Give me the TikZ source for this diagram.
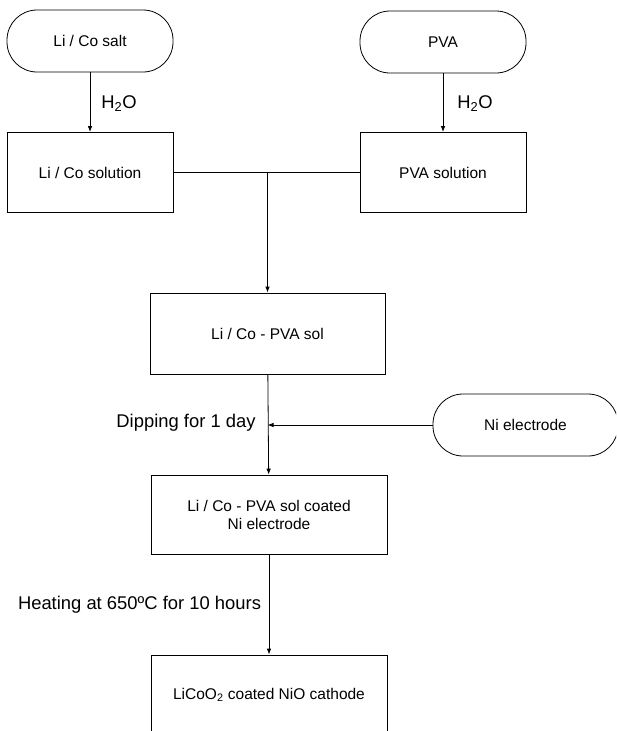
\documentclass[tikz,border=0pt]{standalone}
\usepackage{fontspec}
\setmainfont{Liberation Sans}
\usetikzlibrary{arrows.meta}

\begin{document}
\begin{tikzpicture}[x=1pt, y=-1pt,
    stepbox/.style={draw, line width=0.8pt, minimum width=166pt, minimum height=80pt,
      inner sep=0pt, align=center, font=\fontsize{15.5}{18}\selectfont},
    source/.style={draw, line width=0.8pt, rounded corners=30pt, minimum width=166pt,
      minimum height=62pt, inner sep=0pt, font=\fontsize{15.5}{18}\selectfont},
    flow/.style={line width=0.8pt, -{Latex[length=6pt, width=4.5pt]}},
    mixline/.style={line width=1.2pt},
    note/.style={inner sep=0pt, font=\fontsize{18.4}{22}\selectfont}]
  \clip (0,0) rectangle (616,731);
  % starting materials
  \node[source] (salt) at (90,41) {Li / Co salt};
  \node[source] (pva) at (443,42) {PVA};
  \node[stepbox] (lisol) at (90,172.5) {Li / Co solution};
  \node[stepbox] (pvasol) at (443,172.5) {PVA solution};
  \node[note] (water1) at (119,104) {H\textsubscript{2}O};
  \node[note] (water2) at (475,104) {H\textsubscript{2}O};
  \draw[flow] (salt) -- (lisol);
  \draw[flow] (pva) -- (pvasol);
  % mixing
  \node[stepbox, minimum width=235pt, minimum height=81pt] (sol) at (267.5,333.5) {Li / Co - PVA sol};
  \draw[mixline] (lisol.east) -- (pvasol.west);
  \coordinate (tee) at (sol.north |- lisol.east);
  \draw[flow] (tee) -- (sol);
  % dipping
  \node[source, minimum width=185pt] (ni) at (525.5,425) {Ni electrode};
  \node[stepbox, minimum width=236pt, minimum height=79pt] (coated) at (269,514.5)
    {Li / Co - PVA sol coated\\Ni electrode};
  \node[note] (dip) at (186,423) {Dipping for 1 day};
  \draw[flow] (sol) -- (coated);
  \coordinate (meet) at (ni -| sol.south);
  \draw[flow] (ni) -- (meet);
  % heating
  \node[stepbox, minimum width=236pt] (cathode) at (269,695)
    {LiCoO\textsubscript{2} coated NiO cathode};
  \node[note] (heat) at (139.5,605) {Heating at 650ºC for 10 hours};
  \draw[flow] (coated) -- (cathode);
\end{tikzpicture}
\end{document}
